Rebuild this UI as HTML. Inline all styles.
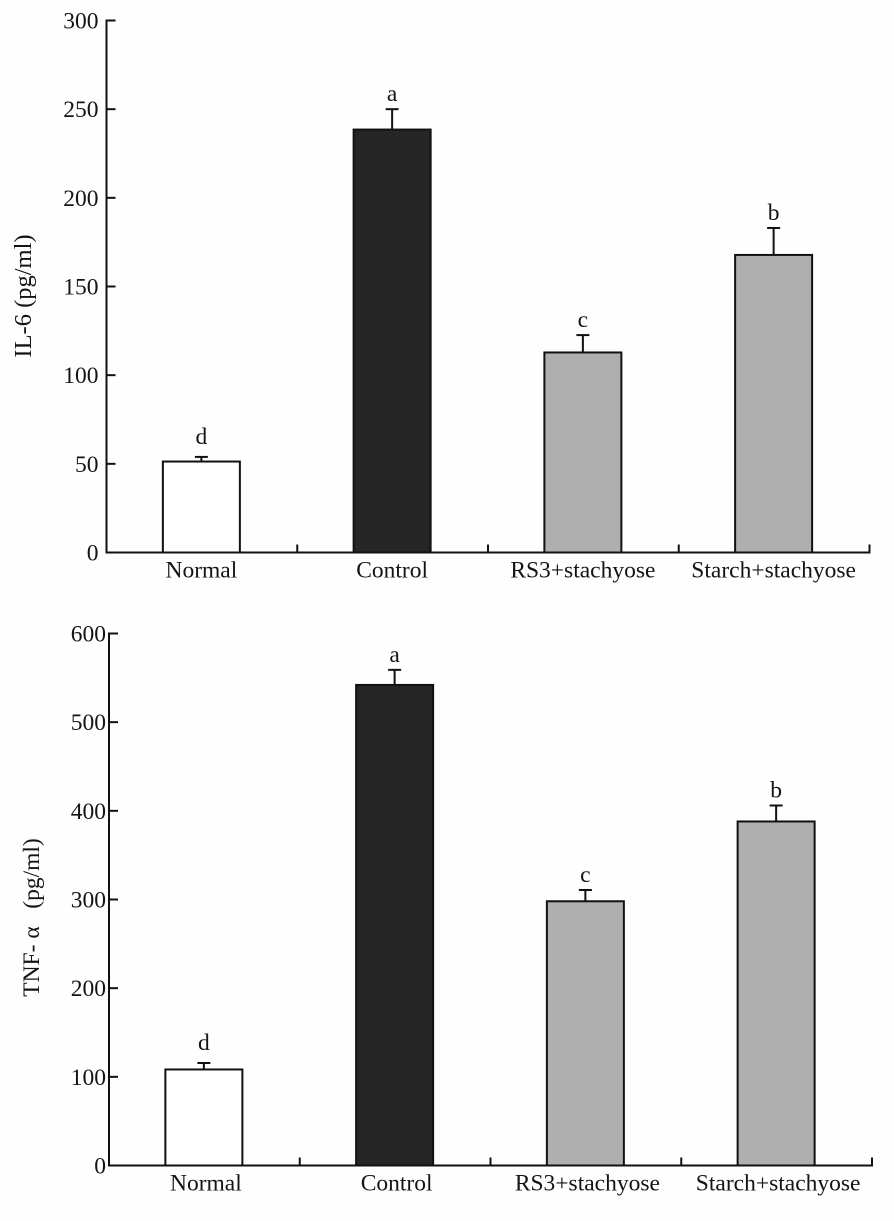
<!DOCTYPE html>
<html lang="en">
<head>
<meta charset="utf-8">
<title>IL-6 and TNF-α bar charts</title>
<style>
html,body{margin:0;padding:0;background:#fefefe;}
svg{display:block;}
text{font-family:"Liberation Serif",serif;font-size:23.5px;fill:#141414;}
</style>
</head>
<body>
<svg id="chart" width="894" height="1221" viewBox="0 0 894 1221" xmlns="http://www.w3.org/2000/svg"></svg>
<script>
const categories = ['Normal', 'Control', 'RS3+stachyose', 'Starch+stachyose'];
const significance = ['d', 'a', 'c', 'b'];
const barFills = ['#ffffff', '#262626', '#afafaf', '#afafaf'];

const il6Values = [51.3, 238.5, 112.8, 167.8];
const il6Errors = [2.6, 11.5, 9.8, 15.2];
const il6Ticks = [0, 50, 100, 150, 200, 250, 300];

const tnfValues = [108.3, 542, 298, 388];
const tnfErrors = [7.3, 17, 12.7, 18];
const tnfTicks = [0, 100, 200, 300, 400, 500, 600];

const svg = document.getElementById('chart');
const NS = 'http://www.w3.org/2000/svg';

function add(tag, attrs, parent) {
  const el = document.createElementNS(NS, tag);
  for (const k in attrs) el.setAttribute(k, attrs[k]);
  (parent || svg).appendChild(el);
  return el;
}

function line(x1, y1, x2, y2, w, parent) {
  return add('line', { x1: x1, y1: y1, x2: x2, y2: y2, stroke: '#111', 'stroke-width': w }, parent);
}

function drawPanel(cfg) {
  const g = add('g', {});
  
  

  const yMax = cfg.ticks[cfg.ticks.length - 1];
  const y = v => cfg.bottom - (v / yMax) * (cfg.bottom - cfg.top);
  const band = (cfg.right - cfg.left) / categories.length;
  const x = i => cfg.left + band * (i + 0.5) - 0.5;
  const barW = 77;

  // bars
  categories.forEach((c, i) => {
    const bar = add('rect', {
      x: x(i) - barW / 2,
      y: y(cfg.values[i]),
      width: barW,
      height: cfg.bottom - y(cfg.values[i]),
      fill: barFills[i],
      stroke: '#111',
      'stroke-width': 2
    }, g);
    
    

    const errTop = y(cfg.values[i] + cfg.errors[i]);
    const stem = line(x(i), y(cfg.values[i]), x(i), errTop, 2, g);
    
    
    const cap = line(x(i) - 6.5, errTop, x(i) + 6.5, errTop, 2, g);
    
    

    const letter = add('text', { x: x(i), y: errTop - (significance[i] === 'd' ? 13 : 8), 'text-anchor': 'middle' }, g);
    letter.textContent = significance[i];
    
    

    const label = add('text', { x: x(i) + cfg.labelShift, y: cfg.bottom + 25, 'text-anchor': 'middle' }, g);
    label.textContent = c;
    
    

    const xTick = line(cfg.left + band * (i + 1), cfg.bottom, cfg.left + band * (i + 1), cfg.bottom - 8, 2, g);
    
    
  });

  // axes
  const yAxis = line(cfg.left, cfg.top - 1, cfg.left, cfg.bottom + 1, 2, g);
  
  
  const xAxis = line(cfg.left - 1, cfg.bottom, cfg.right + 1, cfg.bottom, 2, g);
  
  

  // y ticks and labels
  cfg.ticks.forEach(t => {
    const tick = line(cfg.left, y(t), cfg.left + 9, y(t), 2, g);
    
    
    const lab = add('text', { x: cfg.left - cfg.labelGap, y: y(t) + 8, 'text-anchor': 'end' }, g);
    lab.textContent = t;
    
    
  });

  // y title
  const title = add('text', {
    transform: 'translate(' + cfg.titleX + ' ' + cfg.titleY + ') rotate(-90)',
    'text-anchor': 'middle',
    'xml:space': 'preserve',
    style: 'font-size:' + cfg.titleSize + 'px;white-space:pre'
  }, g);
  title.textContent = cfg.title;
  
  
}

drawPanel({
  name: 'il-6', title: 'IL-6 (pg/ml)', values: il6Values, errors: il6Errors, ticks: il6Ticks,
  left: 106.5, right: 869.5, top: 20.5, bottom: 552.5, labelShift: 0,
  labelGap: 8, titleX: 31, titleY: 296, titleSize: 24.5
});

drawPanel({
  name: 'tnf-alpha', title: 'TNF- α   (pg/ml)', values: tnfValues, errors: tnfErrors, ticks: tnfTicks,
  left: 109, right: 872, top: 633.5, bottom: 1165.5, labelShift: 2,
  labelGap: 3, titleX: 39, titleY: 917.5, titleSize: 23.5
});
</script>
</body>
</html>
